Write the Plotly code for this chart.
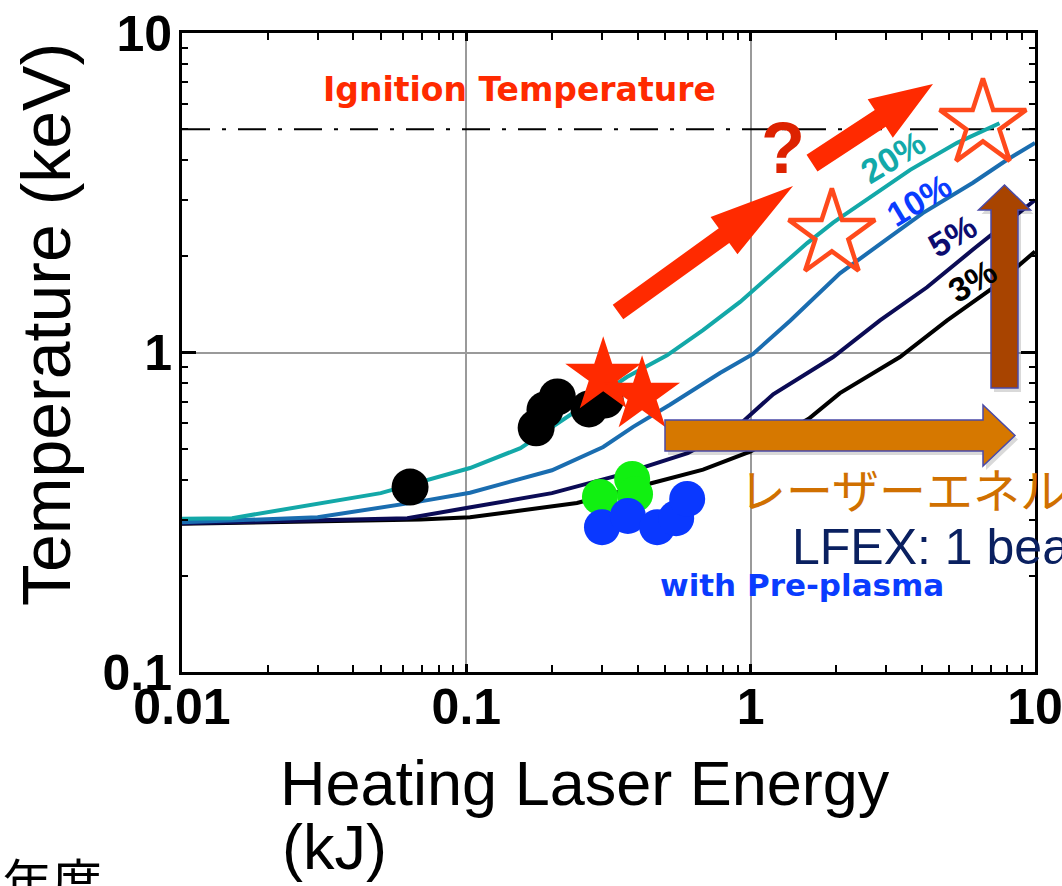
import math
import plotly.graph_objects as go

# ---------------- data ----------------
ignition_temp = 5.0
x_span = [0.01, 10.0]

x_ticks = [0.01, 0.1, 1, 10]
x_ticktext = ["0.01", "0.1", "1", "10"]
y_ticks = [0.1, 1, 10]
y_ticktext = ["0.1", "1", "10"]

# coupling-efficiency model curves
curve20_x = [0.010, 0.015, 0.050, 0.069, 0.103, 0.155, 0.192, 0.266, 0.367, 0.508, 0.68, 0.918, 1.05, 1.58, 1.95, 2.85, 3.64, 5.32, 7.5]
curve20_y = [0.302, 0.303, 0.363, 0.393, 0.435, 0.502, 0.571, 0.695, 0.838, 0.98, 1.175, 1.44, 1.6, 2.20, 2.55, 3.23, 3.73, 4.53, 5.22]

curve10_x = [0.010, 0.030, 0.069, 0.103, 0.20, 0.303, 0.386, 0.52, 0.78, 1.02, 1.38, 2.06, 3.09, 4.03, 6.05, 7.98, 10.0]
curve10_y = [0.294, 0.305, 0.342, 0.364, 0.428, 0.506, 0.585, 0.686, 0.863, 0.99, 1.26, 1.77, 2.30, 2.73, 3.40, 4.01, 4.53]

curve5_x = [0.010, 0.062, 0.10, 0.20, 0.347, 0.60, 0.895, 1.02, 1.20, 1.95, 2.85, 4.17, 6.05, 10.0]
curve5_y = [0.292, 0.303, 0.326, 0.363, 0.414, 0.484, 0.585, 0.65, 0.74, 0.968, 1.26, 1.60, 2.10, 3.0]

curve3_x = [0.010, 0.069, 0.103, 0.245, 0.454, 0.68, 1.0, 1.6, 2.06, 3.35, 4.91, 6.95, 10.0]
curve3_y = [0.291, 0.300, 0.305, 0.338, 0.391, 0.43, 0.49, 0.62, 0.746, 0.968, 1.26, 1.57, 2.07]

curve_labels = ["20%", "10%", "5%", "3%"]

# experiments
exp_black_x = [0.0634, 0.176, 0.189, 0.209, 0.270, 0.308]
exp_black_y = [0.379, 0.581, 0.661, 0.726, 0.666, 0.71]

exp_star_x = [0.303, 0.415]
exp_star_y = [0.844, 0.736]

goal_star_x = [1.93, 6.56]
goal_star_y = [2.35, 5.19]

exp_green_x = [0.295, 0.383, 0.392]
exp_green_y = [0.353, 0.402, 0.36]

exp_preplasma_x = [0.300, 0.37, 0.469, 0.547, 0.598]
exp_preplasma_y = [0.284, 0.308, 0.284, 0.303, 0.348]

# ---------------- layout geometry ----------------
W, H = 1062, 886
ML, MR, MT, MB = 182, 27, 33, 214
PW = W - ML - MR
PH = H - MT - MB


def to_paper(px, py):
    return (px - ML) / PW, (H - MB - py) / PH


def arrow_path(tail, tip, w, hw, hl, off=(0, 0)):
    dx, dy = tip[0] - tail[0], tip[1] - tail[1]
    n = math.hypot(dx, dy)
    ux, uy = dx / n, dy / n
    nx, ny = -uy, ux
    bx, by = tip[0] - ux * hl, tip[1] - uy * hl
    pts = [(tail[0] + nx * w, tail[1] + ny * w), (bx + nx * w, by + ny * w),
           (bx + nx * hw, by + ny * hw), tip,
           (bx - nx * hw, by - ny * hw), (bx - nx * w, by - ny * w),
           (tail[0] - nx * w, tail[1] - ny * w)]
    segs = []
    for i, (x, y) in enumerate(pts):
        X, Y = to_paper(x + off[0], y + off[1])
        segs.append(("M" if i == 0 else "L") + f"{X:.5f},{Y:.5f}")
    return " ".join(segs) + " Z"


fig = go.Figure()

# ignition temperature line
fig.add_trace(go.Scatter(x=x_span, y=[ignition_temp, ignition_temp], mode="lines",
                         line=dict(color="black", width=2, dash="28px,12px,4px,12px"),
                         hoverinfo="skip", showlegend=False))

curve_colors = ["#13a8a8", "#1a6db0", "#0b0b55", "#000000"]
for cx, cy, col, name in [(curve3_x, curve3_y, curve_colors[3], curve_labels[3]),
                          (curve5_x, curve5_y, curve_colors[2], curve_labels[2]),
                          (curve10_x, curve10_y, curve_colors[1], curve_labels[1]),
                          (curve20_x, curve20_y, curve_colors[0], curve_labels[0])]:
    fig.add_trace(go.Scatter(x=cx, y=cy, mode="lines", name=name,
                             line=dict(color=col, width=4), showlegend=False))

fig.add_trace(go.Scatter(x=exp_black_x, y=exp_black_y, mode="markers", showlegend=False,
                         marker=dict(symbol="circle", size=37, color="black", line=dict(width=0))))
fig.add_trace(go.Scatter(x=exp_star_x, y=exp_star_y, mode="markers", showlegend=False,
                         marker=dict(symbol="star", size=57, color="#ff2a00", line=dict(width=0))))
fig.add_trace(go.Scatter(x=goal_star_x, y=goal_star_y, mode="markers", showlegend=False,
                         marker=dict(symbol="star-open", size=65, color="#ff4a1c",
                                     line=dict(width=4.5, color="#ff4a1c"))))
fig.add_trace(go.Scatter(x=exp_green_x, y=exp_green_y, mode="markers", showlegend=False,
                         marker=dict(symbol="circle", size=36, color="#11f011", line=dict(width=0))))
fig.add_trace(go.Scatter(x=exp_preplasma_x, y=exp_preplasma_y, mode="markers", showlegend=False,
                         marker=dict(symbol="circle", size=36, color="#0a38ff", line=dict(width=0))))

# ---------------- arrows (decorations) ----------------
shapes = []
red = "#ff2a00"
shapes.append(dict(type="path", path=arrow_path((618, 312), (793, 186), 9, 23, 85),
                   xref="paper", yref="paper", fillcolor=red, line=dict(width=0), layer="above"))
shapes.append(dict(type="path", path=arrow_path((812, 163), (933, 84), 10, 23, 63),
                   xref="paper", yref="paper", fillcolor=red, line=dict(width=0), layer="above"))
# shadows
shapes.append(dict(type="path", path=arrow_path((665, 435.5), (1015, 435.5), 15.5, 30.5, 32, off=(3, 4)),
                   xref="paper", yref="paper", fillcolor="rgba(0,0,0,0.15)", line=dict(width=0), layer="above"))
shapes.append(dict(type="path", path=arrow_path((1004.5, 388), (1004.5, 185), 13.5, 26, 25, off=(3, 4)),
                   xref="paper", yref="paper", fillcolor="rgba(0,0,0,0.15)", line=dict(width=0), layer="above"))
shapes.append(dict(type="path", path=arrow_path((665, 435.5), (1015, 435.5), 15.5, 30.5, 32),
                   xref="paper", yref="paper", fillcolor="#d67800",
                   line=dict(width=1.5, color="#4a4aa8"), layer="above"))
shapes.append(dict(type="path", path=arrow_path((1004.5, 388), (1004.5, 185), 13.5, 26, 25),
                   xref="paper", yref="paper", fillcolor="#a84400",
                   line=dict(width=1.5, color="#4a4aa8"), layer="above"))

# ---------------- text ----------------
ann = []


def add_text(text, px, py, size, color, family, weight="normal", xanchor="center",
             yanchor="middle", angle=0):
    X, Y = to_paper(px, py)
    ann.append(dict(text=text, x=X, y=Y, xref="paper", yref="paper", showarrow=False,
                    xanchor=xanchor, yanchor=yanchor, textangle=angle,
                    font=dict(size=size, color=color, family=family, weight=weight)))


add_text("Ignition Temperature", 519, 90, 33, "#ff2a00", "DejaVu Sans", "bold")
add_text("?", 783, 148, 72, "#dd2200", "Liberation Sans", "bold")
add_text(curve_labels[0], 893, 157, 34, "#12a9a9", "Liberation Sans", "bold", angle=-31)
add_text(curve_labels[1], 919, 200, 34, "#0a3cff", "Liberation Sans", "bold", angle=-31)
add_text(curve_labels[2], 952, 236, 34, "#0c0c70", "Liberation Sans", "bold", angle=-31)
add_text(curve_labels[3], 972, 281, 34, "#000000", "Liberation Sans", "bold", angle=-31)
add_text("レーザーエネルギー", 737, 487, 47, "#d07000", "Noto Sans CJK JP", xanchor="left")
add_text("LFEX: 1 beam", 790, 547, 50, "#0a2060", "Liberation Sans", xanchor="left")
add_text("with Pre-plasma", 658, 585, 31, "#0a3cff", "DejaVu Sans", "bold", xanchor="left")
add_text("年度", 0, 841, 50, "#000000", "Noto Sans CJK JP", xanchor="left", yanchor="top")
add_text("Temperature (keV)", 46, 325, 68, "#000000", "Liberation Sans", angle=-90)
add_text("Heating Laser Energy", 278, 783, 63, "#000000", "Liberation Sans", xanchor="left")
add_text("(kJ)", 280, 847, 63, "#000000", "Liberation Sans", xanchor="left")

minor_x = [m * 10 ** e for e in (-2, -1, 0) for m in range(2, 10)]
minor_y = [m * 10 ** e for e in (-1, 0) for m in range(2, 10)]

axis_common = dict(type="log", showline=True, linewidth=3, linecolor="black", mirror="allticks",
                   ticks="inside", tickwidth=3, tickcolor="black", showgrid=True,
                   gridcolor="#9a9a9a", gridwidth=2, zeroline=False, automargin=False,
                   tickmode="array", ticklabeloverflow="allow",
                   tickfont=dict(family="Liberation Sans", size=50, color="black", weight="bold"))

fig.update_layout(
    width=W, height=H,
    margin=dict(l=ML, r=MR, t=MT, b=MB, pad=0),
    paper_bgcolor="white", plot_bgcolor="white",
    showlegend=False,
    xaxis=dict(axis_common, range=[-2, 1], tickvals=x_ticks, ticktext=x_ticktext, ticklen=8,
               ticklabelstandoff=-11,
               minor=dict(tickmode="array", tickvals=minor_x, ticks="inside", ticklen=7,
                          tickwidth=2, tickcolor="black", showgrid=False)),
    yaxis=dict(axis_common, range=[-1, 1], tickvals=y_ticks, ticktext=y_ticktext, ticklen=14,
               ticklabelstandoff=-3,
               minor=dict(tickmode="array", tickvals=minor_y, ticks="inside", ticklen=6,
                          tickwidth=2, tickcolor="black", showgrid=False)),
    shapes=shapes,
    annotations=ann,
)

fig.write_html("out.html", config={"displayModeBar": False},
               post_script="document.body.style.margin='0';document.body.style.overflow='hidden';")
